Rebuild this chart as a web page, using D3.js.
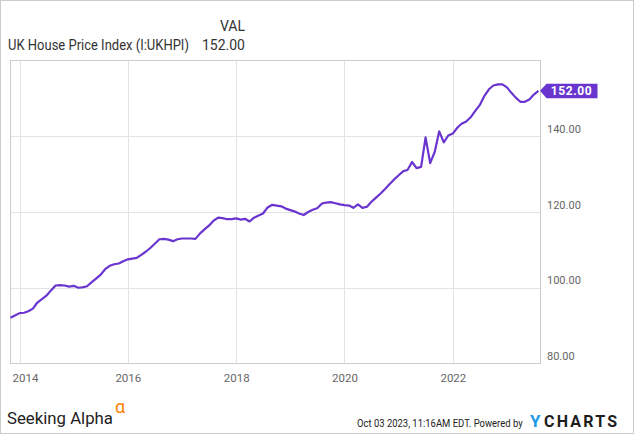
<!DOCTYPE html>
<html lang="en">
<head>
<meta charset="UTF-8">
<title>UK House Price Index</title>
<script src="https://d3js.org/d3.v7.min.js"></script>
<style>
  body { margin: 0; background: #fff; }
  svg text { font-family: Roboto, "Liberation Sans", sans-serif; }
</style>
</head>
<body>
<div id="chart"></div>
<script>
  // monthly index values, Oct 2013 .. Jul 2023
  var firstMonth = "2013-10";
  var lastMonth = "2023-07";
  var values = [
    92.1, 92.7, 93.3, 93.4, 93.8, 94.5, 96.1, 97.0, 97.9, 99.3,
    100.6, 100.7, 100.6, 100.3, 100.5, 100.0, 100.1, 100.4, 101.4, 102.4,
    103.4, 104.9, 105.8, 106.2, 106.4, 107.0, 107.5, 107.7, 107.9, 108.7,
    109.5, 110.5, 111.6, 112.8, 112.9, 112.7, 112.3, 112.8, 113.0, 113.0,
    113.0, 112.9, 114.3, 115.4, 116.4, 117.7, 118.5, 118.4, 118.1, 118.1,
    118.3, 118.0, 118.2, 117.5, 118.5, 119.1, 119.6, 121.2, 121.9, 121.7,
    121.5, 120.9, 120.5, 120.1, 119.6, 119.2, 120.0, 120.6, 121.0, 122.2,
    122.5, 122.6, 122.3, 122.0, 121.8, 121.7, 121.1, 122.0, 121.1, 121.4,
    122.7, 123.8, 124.9, 126.1, 127.4, 128.6, 129.7, 130.8, 131.1, 133.2,
    131.6, 131.9, 139.7, 132.9, 135.9, 141.3, 138.4, 140.2, 140.7, 142.3,
    143.3, 143.9, 145.0, 146.7, 148.2, 150.6, 152.4, 153.4, 153.7, 153.7,
    152.9, 151.4, 150.2, 149.1, 149.1, 149.7, 151.0, 152.0
  ];
  var yTicks = [80, 100, 120, 140];
  var xTickYears = [2014, 2016, 2018, 2020, 2022];
  var seriesName = "UK House Price Index (I:UKHPI)";
  var lastLabel = "152.00";

  var W = 635, H = 435;
  var pL = 10.5, pR = 540.5, pT = 60.5, pB = 363.5;
  var purple = "#6a35cf";

  var parseMonth = d3.timeParse("%Y-%m");
  // YCharts plots each monthly value at the month end
  var months = d3.timeMonth.range(parseMonth(firstMonth), d3.timeMonth.offset(parseMonth(lastMonth), 1));
  var data = months.map((m, i) => ({ date: d3.timeMonth.offset(m, 1), v: values[i] }));

  var svg = d3.select("#chart").append("svg")
    .attr("width", W).attr("height", H);

  svg.append("rect")
    .attr("x", 0.5).attr("y", 0.5).attr("width", 633).attr("height", 433)
    .attr("fill", "#fff").attr("stroke", "#cccccc");

  var x = d3.scaleTime()
    .domain([new Date(2013, 10, 1), new Date(2023, 7, 15)])
    .range([pL, pR]);
  var y = d3.scaleLinear()
    .domain([80, 160])
    .range([pB, pT]);

  // gridlines
  var xTickDates = xTickYears.map(yr => new Date(yr, 0, 1));
  svg.append("g")
    .selectAll("line")
    .data(xTickDates)
    .join("line")
    .attr("x1", d => Math.round(x(d)) + 0.5).attr("x2", d => Math.round(x(d)) + 0.5)
    .attr("y1", pT).attr("y2", pB)
    .attr("stroke", "#e3e3e3");
  svg.append("g")
    .selectAll("line")
    .data(yTicks.slice(1))
    .join("line")
    .attr("x1", pL).attr("x2", pR)
    .attr("y1", d => Math.round(y(d)) + 0.5).attr("y2", d => Math.round(y(d)) + 0.5)
    .attr("stroke", "#e3e3e3");

  svg.append("rect")
    .attr("x", pL).attr("y", pT)
    .attr("width", pR - pL).attr("height", pB - pT)
    .attr("fill", "none").attr("stroke", "#cccccc");

  // x axis labels
  var xAxis = svg.append("g")
    .attr("transform", `translate(0,${pB})`)
    .call(d3.axisBottom(x).tickValues(xTickDates).tickFormat(d3.timeFormat("%Y")).tickSize(0).tickPadding(10));
  xAxis.select(".domain").remove();
  xAxis.selectAll("text")
    .attr("fill", "#666").attr("font-size", 11.5)
    .attr("font-family", "Roboto, sans-serif")
    .each(function(d) {
      // keep first label inside the plot like the original
      var px = x(d);
      if (px - 12 < 13) d3.select(this).attr("x", 13 + 12 - px);
    });

  // y axis labels on the right
  var yAxis = svg.append("g")
    .attr("transform", `translate(${pR},0)`)
    .call(d3.axisRight(y).tickValues(yTicks).tickFormat(d3.format(".2f")).tickSize(0).tickPadding(6.5));
  yAxis.select(".domain").remove();
  yAxis.selectAll("text")
    .attr("fill", "#666").attr("font-size", 11)
    .attr("font-family", "Roboto, sans-serif")
    .attr("dy", "-0.35em");

  // line
  var line = d3.line()
    .x(d => x(d.date))
    .y(d => y(d.v));
  svg.append("path")
    .datum(data)
    .attr("d", line)
    .attr("fill", "none")
    .attr("stroke", purple)
    .attr("stroke-width", 2.2)
    .attr("stroke-linejoin", "round");

  // last value badge
  var last = data[data.length - 1];
  var by = y(last.v);
  var bx = pR;
  svg.append("path")
    .attr("d", `M${bx - 0.5},${by} L${bx + 6},${by - 7} L${bx + 57},${by - 7} L${bx + 57},${by + 7.5} L${bx + 6},${by + 7.5} Z`)
    .attr("fill", purple);
  svg.append("text")
    .attr("x", bx + 31).attr("y", by + 4.5)
    .attr("text-anchor", "middle")
    .attr("fill", "#fff").attr("font-size", 12).attr("font-weight", "bold")
    .attr("letter-spacing", 0.6)
    .text(lastLabel);

  // squeeze a text horizontally so it spans `w` px (the original uses a narrow font)
  function fitText(sel, tx, ty, w) {
    var len = sel.node().getComputedTextLength();
    var sx = Math.min(1, w / len);
    sel.attr("transform", `translate(${tx},${ty}) scale(${sx},1)`);
    return sel;
  }

  // header
  svg.append("text")
    .attr("x", 245).attr("y", 31).attr("text-anchor", "end")
    .attr("fill", "#333").attr("font-size", 14)
    .text("VAL");
  fitText(svg.append("text")
    .attr("fill", "#333").attr("font-size", 14)
    .text(seriesName), 8, 50, 181);
  svg.append("text")
    .attr("x", 245).attr("y", 50).attr("text-anchor", "end")
    .attr("fill", "#333").attr("font-size", 14)
    .text(lastLabel);

  // footer
  fitText(svg.append("text")
    .attr("fill", "#222").attr("font-size", 17)
    .attr("font-family", "'Liberation Sans', Arial, sans-serif")
    .text("Seeking Alpha"), 7, 423.5, 106);
  svg.append("text")
    .attr("x", 115).attr("y", 413)
    .attr("fill", "#ff7f00").attr("font-size", 18)
    .attr("font-family", "'DejaVu Serif', serif")
    .text("\u03b1");
  fitText(svg.append("text")
    .attr("fill", "#222").attr("font-size", 11.5)
    .text("Oct 03 2023, 11:16AM EDT.  Powered by"), 357, 426.5, 166);
  svg.append("text")
    .attr("x", 530).attr("y", 427)
    .attr("fill", "#1e9be6").attr("font-size", 17).attr("font-weight", "bold")
    .text("Y");
  svg.append("text")
    .attr("x", 544).attr("y", 427)
    .attr("fill", "#1d1d1d").attr("font-size", 16).attr("font-weight", "bold")
    .attr("letter-spacing", 2.2)
    .text("CHARTS");
</script>
</body>
</html>
